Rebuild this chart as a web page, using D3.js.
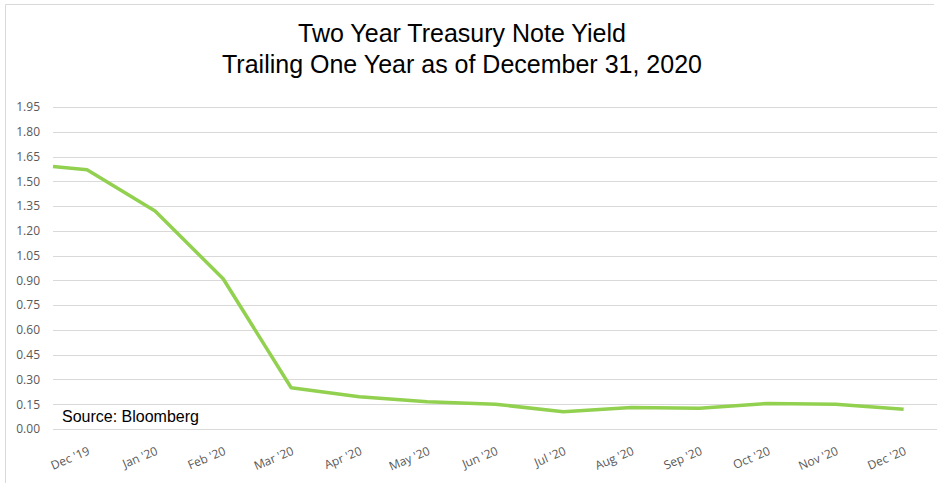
<!DOCTYPE html>
<html>
<head>
<meta charset="utf-8">
<script src="https://cdn.jsdelivr.net/npm/d3@7"></script>
<style>
  html, body { margin: 0; padding: 0; background: #fff; }
  svg { display: block; }
</style>
</head>
<body>
<svg id="chart" width="943" height="483"></svg>
<script>
// Month-end labels along the x axis
const monthLabels = ["Dec '19", "Jan '20", "Feb '20", "Mar '20", "Apr '20", "May '20", "Jun '20",
                     "Jul '20", "Aug '20", "Sep '20", "Oct '20", "Nov '20", "Dec '20"];
// Position of each observation on the month axis (0 = Dec '19); the series opens mid-December 2019
const obsIndex = [-0.5, 0, 1, 2, 3, 4, 5, 6, 7, 8, 9, 10, 11, 12];
// Two-year Treasury yield (%)
const yieldValues = [1.59, 1.57, 1.32, 0.91, 0.25, 0.195, 0.165, 0.15, 0.105, 0.13, 0.125, 0.155, 0.15, 0.12];
// Y axis ticks
const yTicks = d3.range(0, 13.5).map(i => +(i * 0.15).toFixed(2));

const titleLines = ["Two Year Treasury Note Yield", "Trailing One Year as of December 31, 2020"];
const sourceNote = "Source: Bloomberg";

const svg = d3.select("#chart");

const plot = { left: 53, right: 937, top: 107, bottom: 429 };

const x = d3.scaleLinear()
  .domain([-0.5, 12.5])
  .range([plot.left, plot.left + 13 * 68.05]);

const y = d3.scaleLinear()
  .domain([0, 1.95])
  .range([plot.bottom, plot.top]);

// Outer frame (top and left edges visible)
svg.append("path")
  .attr("d", `M5.5,483 V4.5 H934`)
  .attr("fill", "none")
  .attr("stroke", "#d9d9d9")
  .attr("stroke-width", 1);

// Title
svg.append("g")
  .selectAll("text")
  .data(titleLines)
  .join("text")
  .attr("x", 462)
  .attr("y", (d, i) => 42 + i * 31)
  .attr("text-anchor", "middle")
  .attr("font-family", "Liberation Sans, Arial, sans-serif")
  .attr("font-size", 25)
  .attr("fill", "#000")
  .text(d => d);

// Horizontal gridlines
svg.append("g")
  .selectAll("line")
  .data(yTicks)
  .join("line")
  .attr("x1", plot.left)
  .attr("x2", plot.right)
  .attr("y1", d => Math.round(y(d)) + 0.5)
  .attr("y2", d => Math.round(y(d)) + 0.5)
  .attr("stroke", "#d9d9d9")
  .attr("stroke-width", 1.2);

// Y axis labels
const yAxis = d3.axisLeft(y)
  .tickValues(yTicks)
  .tickFormat(d3.format(".2f"))
  .tickSize(0)
  .tickPadding(0);

const yG = svg.append("g")
  .attr("transform", `translate(40,0)`)
  .call(yAxis);
yG.select(".domain").remove();
yG.selectAll("text")
  .attr("font-family", "Open Sans, sans-serif")
  .attr("font-size", 12)
  .attr("fill", "#595959");

// X axis labels, rotated
const xAxis = d3.axisBottom(x)
  .tickValues(d3.range(monthLabels.length))
  .tickFormat(i => monthLabels[i])
  .tickSize(0)
  .tickPadding(0);

const xG = svg.append("g")
  .attr("transform", `translate(0,${plot.bottom})`)
  .call(xAxis);
xG.select(".domain").remove();
xG.selectAll("text")
  .attr("font-family", "Open Sans, sans-serif")
  .attr("font-size", 12)
  .attr("fill", "#595959")
  .attr("text-anchor", "end")
  .attr("dy", null)
  .attr("y", 0)
  .attr("transform", "translate(3,25) rotate(-23)");

// Yield line
const line = d3.line()
  .x((d, i) => x(obsIndex[i]))
  .y(d => y(d));

svg.append("path")
  .datum(yieldValues)
  .attr("d", line)
  .attr("fill", "none")
  .attr("stroke", "#92d050")
  .attr("stroke-width", 3.5)
  .attr("stroke-linejoin", "round")
  .attr("stroke-linecap", "butt");

// Source note
svg.append("text")
  .attr("x", 62)
  .attr("y", 422)
  .attr("font-family", "Liberation Sans, Arial, sans-serif")
  .attr("font-size", 16)
  .attr("fill", "#000")
  .text(sourceNote);
</script>
</body>
</html>
